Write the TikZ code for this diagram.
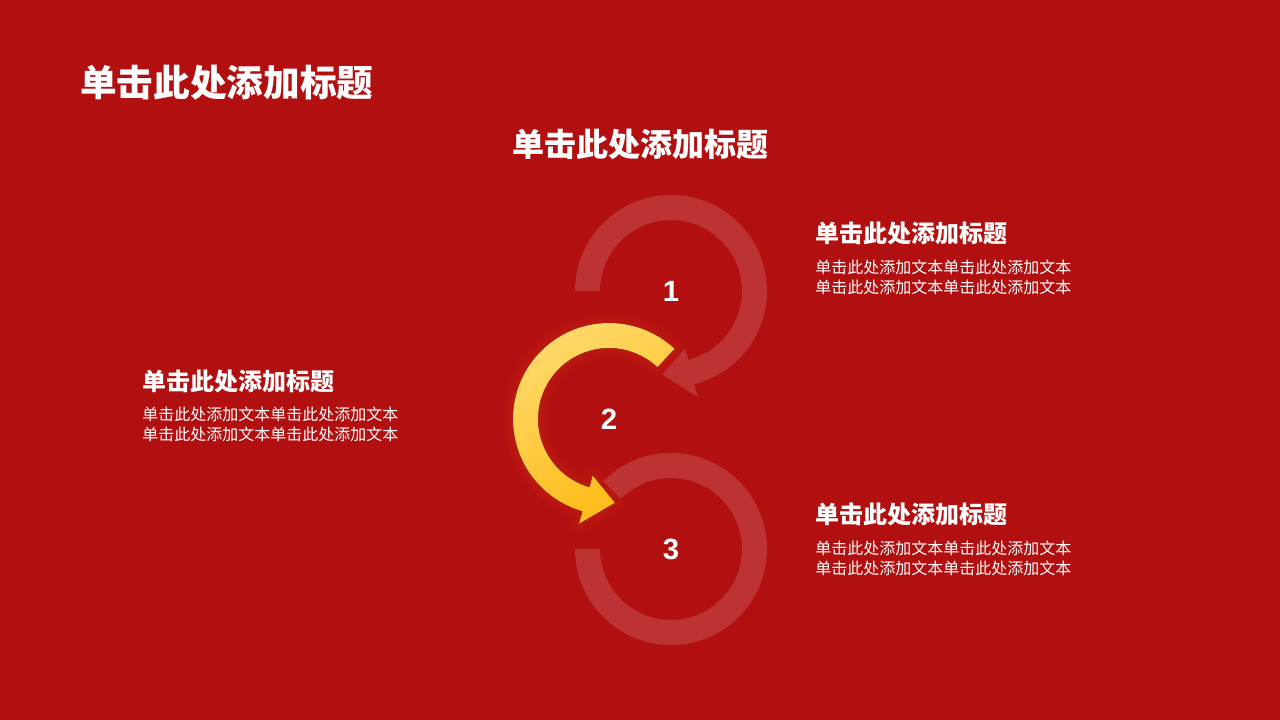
\documentclass[tikz,border=0pt]{standalone}
\usepackage{fontspec}
\newfontfamily\cjk{Noto Sans CJK SC}
\newfontfamily\digits{Liberation Sans}
\definecolor{bgred}{RGB}{178,16,16}
\definecolor{glowred}{RGB}{215,44,24}
\definecolor{ylight}{RGB}{255,218,110}
\definecolor{ydeep}{RGB}{255,186,20}
\tikzset{
  ring/.style={fill=white,fill opacity=0.15},
  num/.style={text=white,font=\digits\bfseries\fontsize{22}{26}\selectfont},
  bigtitle/.style={text=white,font=\cjk\bfseries\fontsize{27.5}{32}\selectfont},
  midtitle/.style={text=white,font=\cjk\bfseries\fontsize{24}{28}\selectfont},
  itemtitle/.style={text=white,anchor=west,inner sep=0pt,font=\cjk\bfseries\fontsize{18}{22}\selectfont},
  itemtext/.style={text=white,anchor=west,inner sep=0pt,align=left,font=\cjk\fontsize{12}{15}\selectfont},
  glow/.style={draw=glowred,line width=#1,opacity=0.1,line join=round}
}
\begin{document}
\begin{tikzpicture}[x=0.75pt,y=0.75pt]
  \fill[bgred] (0,0) rectangle (1280,720);
  \useasboundingbox (0,0) rectangle (1280,720);
  \coordinate (c1) at (671,429);
  \coordinate (c2) at (609,301);
  \coordinate (c3) at (671,171);
  \begin{scope}[shift={(c1)}]
    \fill[ring] (180:96) arc[start angle=180,end angle=-76,radius=96] -- (-76:109) -- (-96:84)
      -- (-76:59) -- (-76:71) arc[start angle=-76,end angle=180,radius=71] -- cycle;
  \end{scope}
  \begin{scope}[shift={(c3)}]
    \fill[ring] (180:96) arc[start angle=180,end angle=495,radius=96]
      -- (495:71) arc[start angle=495,end angle=180,radius=71] -- cycle;
  \end{scope}
  \begin{scope}[shift={(c2)}]
    \foreach \w in {14,9,5}
      \draw[glow=\w pt] (47:96) arc[start angle=47,end angle=254,radius=96] -- (254:109) -- (274:84)
        -- (254:59) -- (254:71) arc[start angle=254,end angle=47,radius=71] -- cycle;
    \fill[top color=ylight,bottom color=ydeep,shading angle=30] (47:96) arc[start angle=47,end angle=254,radius=96]
      -- (254:109) -- (274:84) -- (254:59) -- (254:71) arc[start angle=254,end angle=47,radius=71] -- cycle;
  \end{scope}
  \node[num] (n1) at (c1) {1};
  \node[num] (n2) at (c2) {2};
  \node[num] (n3) at (c3) {3};
  \node[bigtitle,anchor=west,inner sep=0pt] (title) at (80,637) {单击此处添加标题};
  \node[midtitle] (subtitle) at (640,576) {单击此处添加标题};
  \node[itemtitle] (t1) at (815,487) {单击此处添加标题};
  \node[itemtext] (b1) at (815,443) {单击此处添加文本单击此处添加文本\\单击此处添加文本单击此处添加文本};
  \node[itemtitle] (t2) at (142,339) {单击此处添加标题};
  \node[itemtext] (b2) at (142,296) {单击此处添加文本单击此处添加文本\\单击此处添加文本单击此处添加文本};
  \node[itemtitle] (t3) at (815,206) {单击此处添加标题};
  \node[itemtext] (b3) at (815,162) {单击此处添加文本单击此处添加文本\\单击此处添加文本单击此处添加文本};
\end{tikzpicture}
\end{document}
